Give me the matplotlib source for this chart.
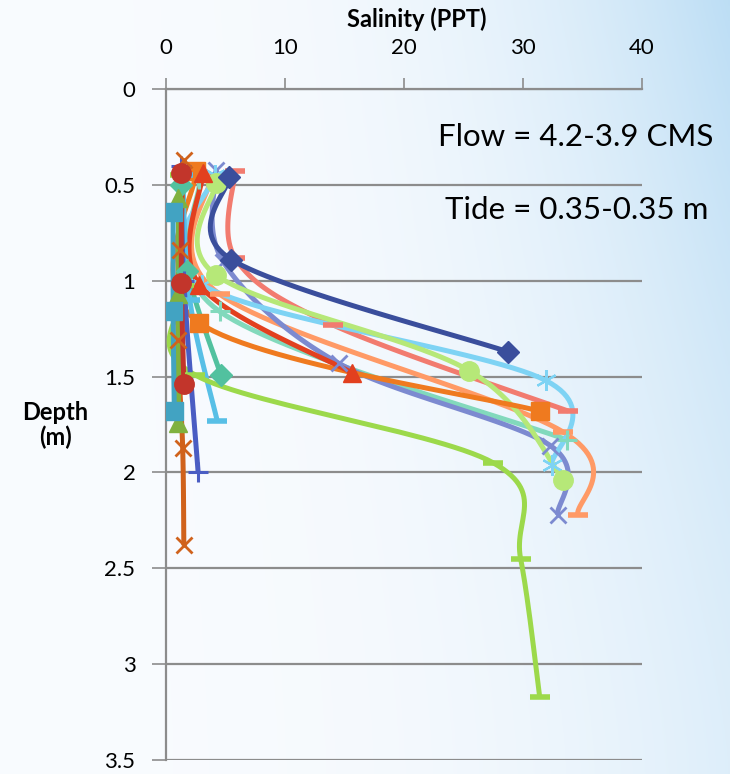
import numpy as np
import matplotlib.pyplot as plt

# salinity (PPT) / depth (m) for each profile
p01_sal = [5.8, 5.8, 14.0, 33.8]
p01_dep = [0.43, 0.88, 1.23, 1.68]
p02_sal = [3.8, 4.5, 33.4, 34.6]
p02_dep = [0.45, 1.07, 1.79, 2.22]
p03_sal = [2.8, 4.5, 33.7]
p03_dep = [0.47, 1.16, 1.83]
p04_sal = [4.2, 4.8, 14.5, 32.3, 32.9]
p04_dep = [0.42, 0.90, 1.43, 1.86, 2.22]
p05_sal = [4.1, 3.0, 31.9, 32.4]
p05_dep = [0.45, 1.02, 1.52, 1.96]
p06_sal = [4.2, 4.2, 25.5, 33.4]
p06_dep = [0.49, 0.97, 1.47, 2.04]
p07_sal = [2.5, 2.8, 31.4]
p07_dep = [0.43, 1.22, 1.68]
p08_sal = [3.1, 2.8, 15.6]
p08_dep = [0.44, 1.02, 1.48]
p09_sal = [5.3, 5.5, 28.7]
p09_dep = [0.46, 0.89, 1.37]
p10_sal = [1.3, 1.8, 4.6]
p10_dep = [0.50, 0.95, 1.49]
p11_sal = [1.4, 2.0, 4.3]
p11_dep = [0.45, 1.10, 1.73]
p12_sal = [1.2, 1.5, 2.4, 27.5, 29.8, 31.4]
p12_dep = [0.45, 1.02, 1.49, 1.95, 2.45, 3.17]
p13_sal = [1.3, 1.5, 2.7]
p13_dep = [0.40, 1.00, 2.00]
p14_sal = [1.5, 1.2, 1.0, 1.4, 1.5]
p14_dep = [0.37, 0.84, 1.31, 1.87, 2.38]
p15_sal = [1.0, 1.0, 1.0]
p15_dep = [0.57, 1.07, 1.74]
p16_sal = [0.6, 0.6, 0.7]
p16_dep = [0.64, 1.16, 1.68]
p17_sal = [1.3, 1.3, 1.5]
p17_dep = [0.44, 1.01, 1.54]

flow_text = 'Flow = 4.2-3.9 CMS'
tide_text = 'Tide = 0.35-0.35 m'

asterisk = (6, 2, 0)
profiles = [
    (p01_sal, p01_dep, '#F27B6F', '_'),
    (p02_sal, p02_dep, '#FF9A66', '_'),
    (p03_sal, p03_dep, '#82D9BC', '+'),
    (p04_sal, p04_dep, '#7C8AD0', 'x'),
    (p05_sal, p05_dep, '#7ED3F4', asterisk),
    (p06_sal, p06_dep, '#B6E878', 'o'),
    (p07_sal, p07_dep, '#EF7A1F', 's'),
    (p08_sal, p08_dep, '#E2401F', '^'),
    (p09_sal, p09_dep, '#3A4E9C', 'D'),
    (p10_sal, p10_dep, '#52C19F', 'D'),
    (p11_sal, p11_dep, '#58BFE6', '_'),
    (p12_sal, p12_dep, '#9CD94B', '_'),
    (p13_sal, p13_dep, '#4A5DC3', '+'),
    (p14_sal, p14_dep, '#D0621C', 'x'),
    (p15_sal, p15_dep, '#80B13F', '^'),
    (p16_sal, p16_dep, '#42A3C2', 's'),
    (p17_sal, p17_dep, '#C2352B', 'o'),
]

# marker size / edge width per marker type
mk_style = {'_': (14, 4), '+': (15, 2.2), 'x': (12, 2), asterisk: (15, 1.6),
            'o': (14, 1), 's': (13, 1), '^': (13, 1), 'D': (11, 1)}

# pixels per data unit, so the smoothing is done in screen space like Excel
SX, SY = 11.9, 191.7


def smooth(xs, ys, n=30):
    p = np.column_stack([np.asarray(xs) * SX, np.asarray(ys) * SY])
    ext = np.vstack([p[0], p, p[-1]])
    t = np.linspace(0, 1, n)[:, None]
    segs = []
    for i in range(len(p) - 1):
        p0, p1, p2, p3 = ext[i], ext[i + 1], ext[i + 2], ext[i + 3]
        c1 = p1 + (p2 - p0) / 6
        c2 = p2 - (p3 - p1) / 6
        segs.append((1 - t)**3 * p1 + 3 * (1 - t)**2 * t * c1 + 3 * (1 - t) * t**2 * c2 + t**3 * p2)
    pts = np.vstack(segs)
    return pts[:, 0] / SX, pts[:, 1] / SY


plt.rcParams['font.family'] = ['Lato', 'DejaVu Sans']

fig = plt.figure(figsize=(7.3, 7.74), dpi=100)

# background gradient
bg = fig.add_axes([0, 0, 1, 1], zorder=-10)
gx, gy = np.meshgrid(np.linspace(0, 1, 300), np.linspace(0, 1, 300))
w = np.clip(gx**3 * (0.45 + 0.55 * (1 - gy)**1.5), 0, 1)[..., None]
c0 = np.array([0.975, 0.985, 0.997])
c1 = np.array([0.74, 0.87, 0.96])
bg.imshow(c0 * (1 - w) + c1 * w, aspect='auto', extent=[0, 1, 0, 1], origin='upper')
bg.axis('off')

ax = fig.add_axes([166 / 730, 1 - 760 / 774, 476 / 730, 671 / 774])
ax.set_facecolor('none')

for sal, dep, col, mk in profiles:
    sx, sy = smooth(sal, dep)
    ax.plot(sx, sy, color=col, lw=3.6, solid_capstyle='butt', zorder=3)
    ms, mew = mk_style[mk]
    ax.plot(sal, dep, ls='none', marker=mk, ms=ms, mew=mew, color=col, mec=col, zorder=4)

ax.set_xlim(0, 40)
ax.set_ylim(3.5, 0)
ax.set_xticks([0, 10, 20, 30, 40])
ax.set_yticks(np.arange(0, 3.51, 0.5))
ax.set_yticklabels(['0', '0.5', '1', '1.5', '2', '2.5', '3', '3.5'])
ax.xaxis.tick_top()
ax.tick_params(axis='x', length=8, width=1.2, color='#8C8C8C', labelsize=16, pad=14)
ax.tick_params(axis='y', length=10, width=1.2, color='#8C8C8C', labelsize=16, pad=12)
ax.yaxis.grid(True, color='#8C8C8C', lw=1.6)
ax.set_axisbelow(True)
for s in ['right', 'bottom']:
    ax.spines[s].set_visible(False)
ax.spines['left'].set_color('#8C8C8C')
ax.spines['left'].set_linewidth(1.6)
ax.spines['top'].set_color('#8C8C8C')
ax.spines['top'].set_linewidth(1.6)

fig.text(417 / 730, 1 - 19 / 774, 'Salinity (PPT)', ha='center', va='center',
         fontsize=17, fontweight='bold')
fig.text(55 / 730, 1 - 425 / 774, 'Depth\n(m)', ha='center', va='center',
         fontsize=17, fontweight='bold', linespacing=1.1)
fig.text(713 / 730, 1 - 137 / 774, flow_text, ha='right', va='center', fontsize=22.5)
fig.text(708 / 730, 1 - 210 / 774, tide_text, ha='right', va='center', fontsize=22.5)

fig.savefig('out.png', dpi=100)
